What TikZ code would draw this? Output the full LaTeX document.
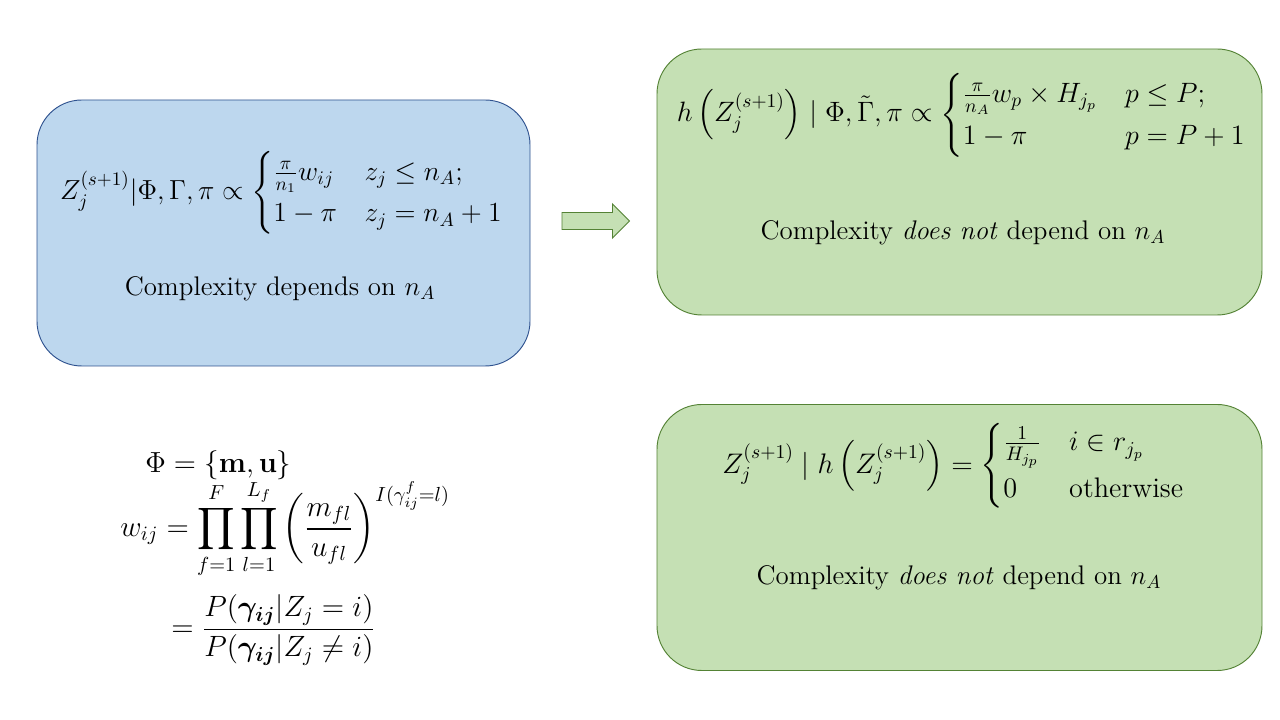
\documentclass[tikz,border=0pt]{standalone}
\usepackage{amsmath,amssymb,bm}
\definecolor{bluefill}{HTML}{BDD7EE}
\definecolor{blueline}{HTML}{2F528F}
\definecolor{greenfill}{HTML}{C5E0B4}
\definecolor{greenline}{HTML}{548235}
\begin{document}
\begin{tikzpicture}[x=0.535pt,y=-0.535pt,
  bluebox/.style={draw=blueline,fill=bluefill,line width=0.5pt,rounded corners=24pt,minimum width=493*0.535pt,minimum height=266*0.535pt,inner sep=0pt},
  greenbox/.style={draw=greenline,fill=greenfill,line width=0.5pt,rounded corners=24pt,minimum width=605*0.535pt,minimum height=266*0.535pt,inner sep=0pt},
  txt/.style={font=\Large,inner sep=0pt}]
\useasboundingbox (0,0) rectangle (1280,720);
\fill[white] (0,0) rectangle (1280,720);
\node[bluebox] (blue) at (283.5,233) {};
\node[greenbox] (g1) at (959.5,182) {};
\node[greenbox] (g2) at (959.5,537.5) {};
% blue box contents
\node[txt] (bf) at (282,193) {\scalebox{1.025}{$Z_j^{(s+1)}|\Phi,\Gamma,\pi \propto \begin{cases}\frac{\pi}{n_1}w_{ij} & z_j\le n_A;\\ 1-\pi & z_j=n_A+1\end{cases}$}};
\node[txt] (bc) at (280,289) {Complexity depends on $n_A$};
% top green contents
\node[txt] (gf1) at (962,115) {\scalebox{1.04}{$h\left(Z_j^{(s+1)}\right) \mid \Phi,\tilde{\Gamma},\pi \propto \begin{cases}\frac{\pi}{n_A}w_p\times H_{j_p} & p\le P;\\ 1-\pi & p=P+1\end{cases}$}};
\node[txt] (gc1) at (963,233) {Complexity \emph{does not} depend on $n_A$};
% bottom green contents
\node[txt] (gf2) at (954,466) {\scalebox{1.05}{$Z_j^{(s+1)} \mid h\left(Z_j^{(s+1)}\right) = \begin{cases}\frac{1}{H_{j_p}} & i\in r_{j_p}\\ 0 & \text{otherwise}\end{cases}$}};
\node[txt] (gc2) at (959,578) {Complexity \emph{does not} depend on $n_A$};
% arrow
\draw[draw=greenline,fill=greenfill,line width=0.5pt]
  (562,212.5) -- (612.5,212.5) -- (612.5,204) -- (629.5,221) -- (612.5,238) -- (612.5,229.5) -- (562,229.5) -- cycle;
% bottom-left equations
\node[txt,anchor=base west] (l1) at (145,473) {\scalebox{1.08}{$\Phi = \{\mathbf{m},\mathbf{u}\}$}};
\node[txt,anchor=west] (l2) at (120,529) {\scalebox{1.09}{$\displaystyle w_{ij} = \prod_{f=1}^{F}\prod_{l=1}^{L_f}\left(\frac{m_{fl}}{u_{fl}}\right)^{I(\gamma_{ij}^f=l)}$}};
\node[txt,anchor=west] (l3) at (171,630) {\scalebox{1.09}{$\displaystyle = \frac{P(\bm{\gamma_{ij}}|Z_j=i)}{P(\bm{\gamma_{ij}}|Z_j\neq i)}$}};
\end{tikzpicture}
\end{document}
